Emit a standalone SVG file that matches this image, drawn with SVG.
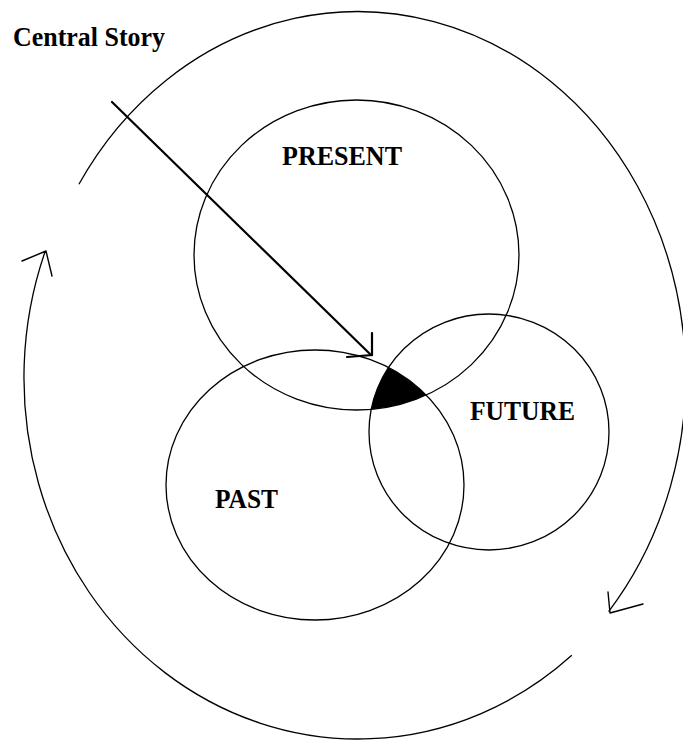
<svg xmlns="http://www.w3.org/2000/svg" width="683" height="741" viewBox="0 0 683 741">
<style>
.c{fill:none;stroke:#000;stroke-width:1.3}
.a{fill:none;stroke:#000;stroke-width:1.4;stroke-linecap:round;stroke-linejoin:round}
.m{fill:none;stroke:#000;stroke-width:2.2;stroke-linecap:round;stroke-linejoin:miter}
.t{font-family:"Liberation Serif","Times New Roman",serif;font-weight:bold;font-size:26.5px;fill:#000}
</style>
<defs>
<clipPath id="clipPresent"><ellipse cx="356.5" cy="255" rx="162.5" ry="155"/></clipPath>
<clipPath id="clipPast"><ellipse cx="315" cy="485" rx="149" ry="135"/></clipPath>
</defs>
<rect width="683" height="741" fill="#fff"/>
<g id="central-story">
<text class="t" x="13" y="46" textLength="152" lengthAdjust="spacingAndGlyphs">Central Story</text>
</g>
<g id="overlap">
<g clip-path="url(#clipPresent)">
<g clip-path="url(#clipPast)">
<ellipse cx="489" cy="432" rx="120" ry="118" fill="#000"/>
</g>
</g>
</g>
<g id="present">
<ellipse class="c" cx="356.5" cy="255" rx="162.5" ry="155"/>
<text class="t" x="282" y="165" textLength="120" lengthAdjust="spacingAndGlyphs">PRESENT</text>
</g>
<g id="past">
<ellipse class="c" cx="315" cy="485" rx="149" ry="135"/>
<text class="t" x="215" y="508" textLength="63" lengthAdjust="spacingAndGlyphs">PAST</text>
</g>
<g id="future">
<ellipse class="c" cx="489" cy="432" rx="120" ry="118"/>
<text class="t" x="470" y="420" textLength="105" lengthAdjust="spacingAndGlyphs">FUTURE</text>
</g>
<g id="connectors">
<path class="c" d="M 78.9 184.2 A 328 365 0 1 1 608.6 611.6"/>
<polyline class="a" points="608,592 610,613 643,604"/>
<path class="c" d="M 571.8 655.3 A 334 361 0 0 1 45.2 251.3"/>
<polyline class="a" points="22,261 46,251 52,276"/>
<line class="m" x1="112" y1="102" x2="371" y2="355"/>
<polyline class="m" points="372,333 372,355 347,357"/>
</g>
</svg>
